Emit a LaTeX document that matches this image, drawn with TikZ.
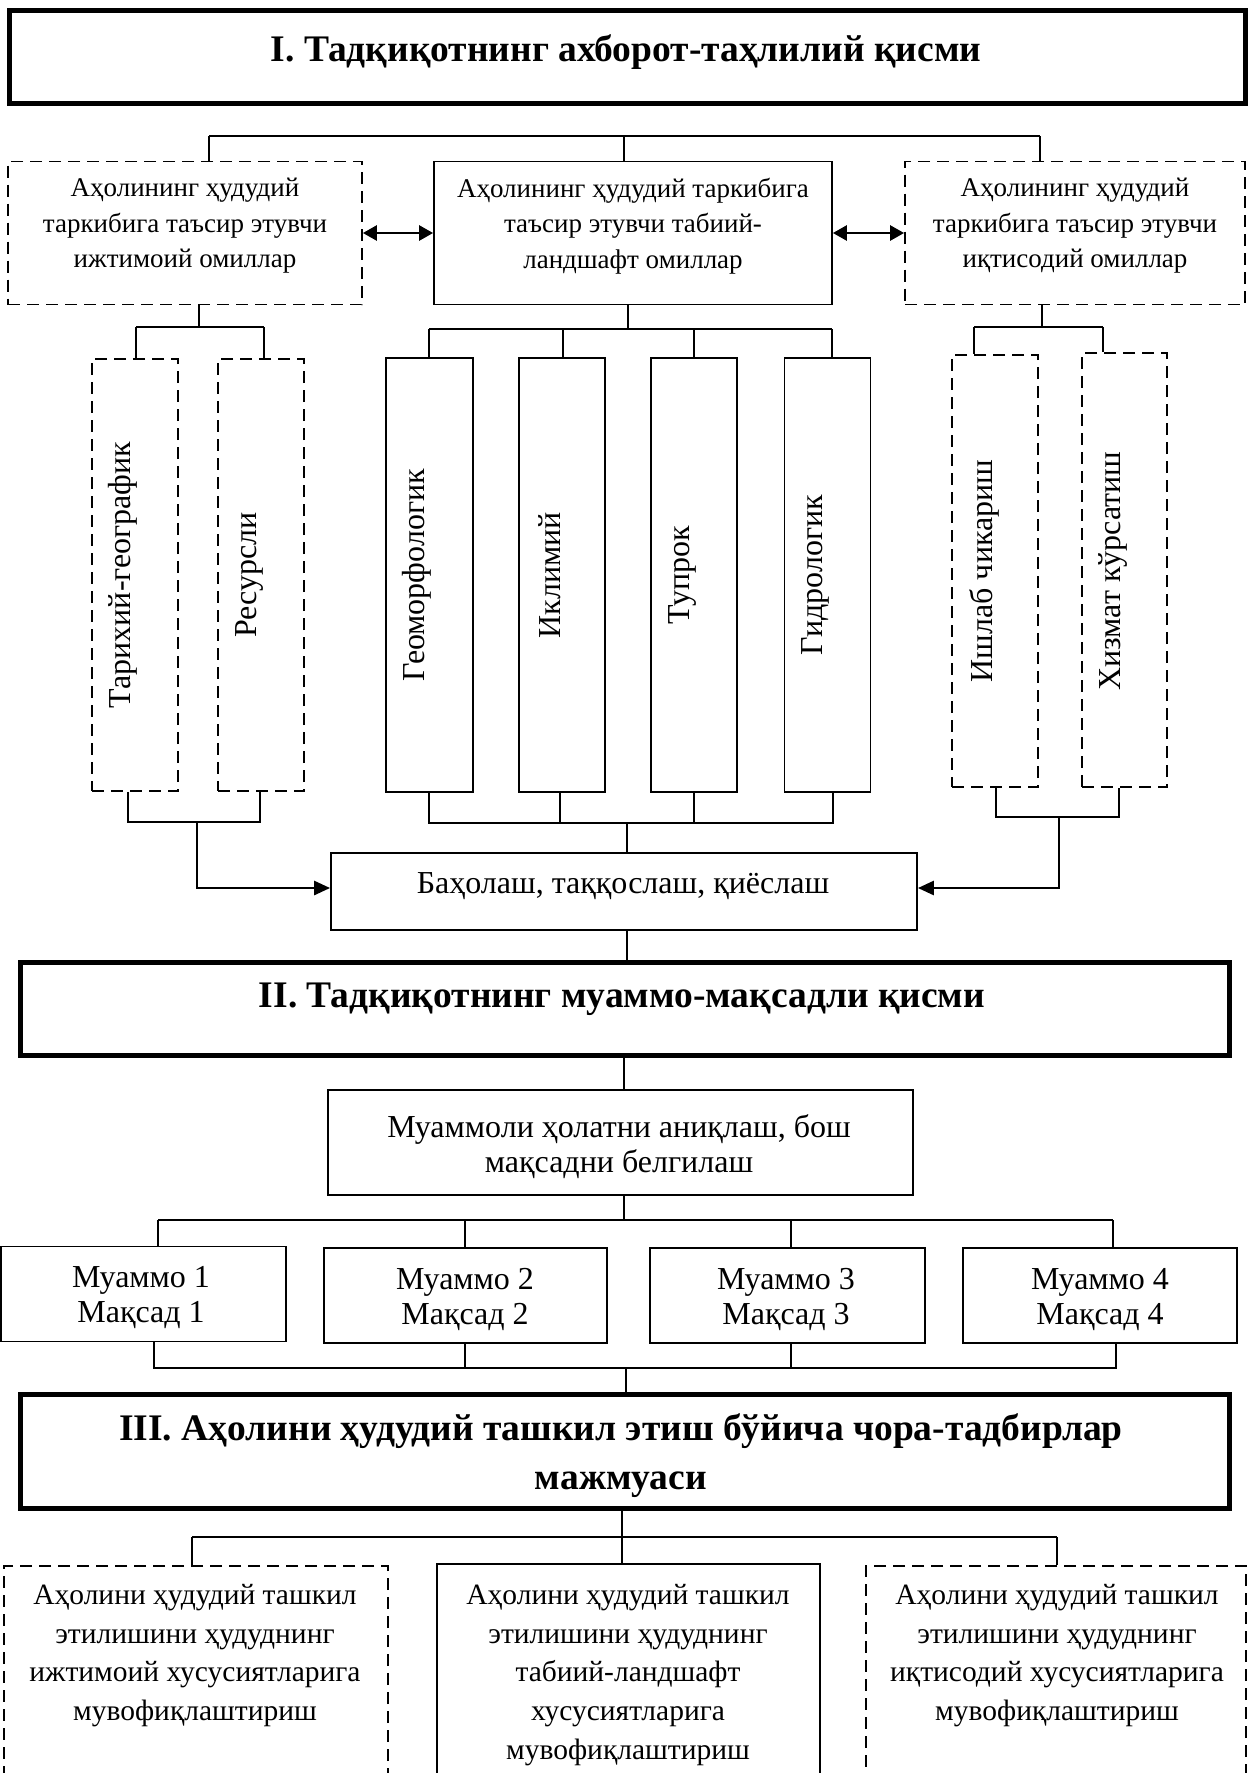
\documentclass[tikz,border=0pt]{standalone}
\usepackage{fontspec}
\setmainfont{Liberation Serif}
\usetikzlibrary{arrows.meta}
\begin{document}
\begin{tikzpicture}[x=1pt,y=-1pt,
  ln/.style={line width=1.8pt},
  bx/.style={draw, line width=1.8pt, inner sep=0pt},
  dbx/.style={bx, dash pattern=on 12pt off 7pt},
  ttl/.style={draw, line width=5pt, inner sep=0pt},
  txt/.style={font=\fontsize{32}{35}\selectfont, align=center, inner sep=0pt},
  stxt/.style={font=\fontsize{27}{35.5}\selectfont, align=center, inner sep=0pt},
  ltxt/.style={font=\fontsize{29.5}{38.7}\selectfont, align=center, inner sep=0pt, anchor=north},
  btxt/.style={font=\fontsize{37.5}{49}\selectfont\bfseries, align=center, inner sep=0pt},
  vtxt/.style={font=\fontsize{32}{35}\selectfont, rotate=90, inner sep=0pt},
  arr/.style={line width=2.7pt, -{Triangle[length=16pt,width=14pt]}},
  darr/.style={line width=2.7pt, {Triangle[length=14pt,width=15pt]}-{Triangle[length=14pt,width=15pt]}}
]
\useasboundingbox (0,0) rectangle (1253,1773);
\clip (0,0) rectangle (1253,1773);
\fill[white] (0,0) rectangle (1253,1773);

% ---------- Title I ----------
\node[ttl, minimum width=1236pt, minimum height=93pt] (t1) at (627.5,57) {};
\node[btxt] (t1t) at (626,52) {I. Тадқиқотнинг ахборот-таҳлилий қисми};

% ---------- top row ----------
\node[dbx, minimum width=354pt, minimum height=143pt] (sL) at (185,233) {};
\node[bx,  minimum width=398pt, minimum height=143pt] (sC) at (633,233) {};
\node[dbx, minimum width=340pt, minimum height=143pt] (sR) at (1075,233) {};
\node[stxt] (sLt) at (185,226) {Аҳолининг ҳудудий\\таркибига таъсир этувчи\\ижтимоий омиллар};
\node[stxt] (sCt) at (633,226) {Аҳолининг ҳудудий таркибига\\таъсир этувчи табиий-\\ландшафт омиллар};
\node[stxt] (sRt) at (1075,226) {Аҳолининг ҳудудий\\таркибига таъсир этувчи\\иқтисодий омиллар};

\coordinate (tbL) at (209,136);
\coordinate (tbC) at (624,136);
\coordinate (tbR) at (1040,136);
\draw[ln] (tbL) -- (tbR);
\draw[ln] (tbL) -- (tbL |- sL.north);
\draw[ln] (tbC) -- (tbC |- sC.north);
\draw[ln] (tbR) -- (tbR |- sR.north);

\draw[darr] (sL.east) -- (sC.west);
\draw[darr] (sC.east) -- (sR.west);

% ---------- vertical boxes ----------
\node[dbx, minimum width=86pt, minimum height=432pt] (vT) at (135,575) {};
\node[dbx, minimum width=86pt, minimum height=432pt] (vR) at (261,575) {};
\node[bx, minimum width=87pt, minimum height=434pt] (vG) at (429.5,575) {};
\node[bx, minimum width=86pt, minimum height=434pt] (vI) at (562,575) {};
\node[bx, minimum width=86pt, minimum height=434pt] (vTu) at (694,575) {};
\node[bx, minimum width=86pt, minimum height=434pt] (vH) at (827.5,575) {};
\node[dbx, minimum width=86pt, minimum height=432pt] (vIs) at (995,571) {};
\node[dbx, minimum width=85pt, minimum height=434pt] (vX) at (1124.5,570) {};

\node[vtxt] (vTt) at (123,575) {Тарихий-географик};
\node[vtxt] (vRt) at (249,575) {Ресурсли};
\node[vtxt] (vGt) at (417,575) {Геоморфологик};
\node[vtxt] (vIt) at (550,575) {Иклимий};
\node[vtxt] (vTut) at (682,575) {Тупрок};
\node[vtxt] (vHt) at (815,575) {Гидрологик};
\node[vtxt] (vIst) at (984,571) {Ишлаб чикариш};
\node[vtxt] (vXt) at (1113,571) {Хизмат кўрсатиш};

% left group (top)
\coordinate (aL) at (199,327);
\coordinate (aL1) at (136,327);
\coordinate (aL2) at (264,327);
\draw[ln] (aL |- sL.south) -- (aL);
\draw[ln] (aL1) -- (aL2);
\draw[ln] (aL1) -- (aL1 |- vT.north);
\draw[ln] (aL2) -- (aL2 |- vR.north);
% centre group (top)
\coordinate (aC) at (628,329);
\coordinate (aC1) at (429,329);
\coordinate (aC2) at (563,329);
\coordinate (aC3) at (694,329);
\coordinate (aC4) at (832,329);
\draw[ln] (aC |- sC.south) -- (aC);
\draw[ln] (aC1) -- (aC4);
\draw[ln] (aC1) -- (aC1 |- vG.north);
\draw[ln] (aC2) -- (aC2 |- vI.north);
\draw[ln] (aC3) -- (aC3 |- vTu.north);
\draw[ln] (aC4) -- (aC4 |- vH.north);
% right group (top)
\coordinate (aR) at (1042,327);
\coordinate (aR1) at (974,327);
\coordinate (aR2) at (1103,327);
\draw[ln] (aR |- sR.south) -- (aR);
\draw[ln] (aR1) -- (aR2);
\draw[ln] (aR1) -- (aR1 |- vIs.north);
\draw[ln] (aR2) -- (aR2 |- vX.north);

% ---------- evaluation box ----------
\node[bx, minimum width=586pt, minimum height=77pt] (baho) at (624,891.5) {};
\node[txt] (bahot) at (623,886) {Баҳолаш, таққослаш, қиёслаш};

% left group (bottom)
\coordinate (bL1) at (128,822);
\coordinate (bL2) at (260,822);
\coordinate (bL) at (197,822);
\coordinate (bLa) at (197,888);
\draw[ln] (bL1 |- vT.south) -- (bL1) -- (bL2) -- (bL2 |- vR.south);
\draw[arr] (bL) -- (bLa) -- (bLa -| baho.west);
% centre group (bottom)
\coordinate (bC1) at (429,823);
\coordinate (bC2) at (560,823);
\coordinate (bC3) at (694,823);
\coordinate (bC4) at (833,823);
\coordinate (bC) at (627,823);
\draw[ln] (bC1 |- vG.south) -- (bC1) -- (bC4) -- (bC4 |- vH.south);
\draw[ln] (bC2 |- vI.south) -- (bC2);
\draw[ln] (bC3 |- vTu.south) -- (bC3);
\draw[ln] (bC) -- (bC |- baho.north);
% right group (bottom)
\coordinate (bR1) at (996,817);
\coordinate (bR2) at (1119,817);
\coordinate (bR) at (1059,817);
\coordinate (bRa) at (1059,888);
\draw[ln] (bR1 |- vIs.south) -- (bR1) -- (bR2) -- (bR2 |- vX.south);
\draw[arr] (bR) -- (bRa) -- (bRa -| baho.east);

% ---------- Title II ----------
\node[ttl, minimum width=1209pt, minimum height=93pt] (t2) at (625,1009) {};
\node[btxt] (t2t) at (622,999) {II. Тадқиқотнинг муаммо-мақсадли қисми};
\coordinate (c2a) at (627,930);
\draw[ln] (c2a |- baho.south) -- (c2a |- t2.north);

\node[bx, minimum width=585pt, minimum height=105pt] (mq) at (620.5,1142.5) {};
\node[txt] (mqt) at (619,1147) {Муаммоли ҳолатни аниқлаш, бош\\мақсадни белгилаш};
\coordinate (c2b) at (624,1060);
\draw[ln] (c2b |- t2.south) -- (c2b |- mq.north);

% ---------- problems ----------
\node[bx, minimum width=285pt, minimum height=95pt] (m1) at (143.5,1294) {};
\node[bx, minimum width=283pt, minimum height=95pt] (m2) at (465.5,1295.5) {};
\node[bx, minimum width=275pt, minimum height=95pt] (m3) at (787.5,1295.5) {};
\node[bx, minimum width=274pt, minimum height=95pt] (m4) at (1100,1295.5) {};
\node[txt] (m1t) at (141,1297.5) {Муаммо 1\\Мақсад 1};
\node[txt] (m2t) at (465,1299.5) {Муаммо 2\\Мақсад 2};
\node[txt] (m3t) at (786,1299.5) {Муаммо 3\\Мақсад 3};
\node[txt] (m4t) at (1100,1299.5) {Муаммо 4\\Мақсад 4};

\coordinate (dT) at (624,1220);
\coordinate (dT1) at (158,1220);
\coordinate (dT2) at (465,1220);
\coordinate (dT3) at (791,1220);
\coordinate (dT4) at (1113,1220);
\draw[ln] (dT |- mq.south) -- (dT);
\draw[ln] (dT1) -- (dT4);
\draw[ln] (dT1) -- (dT1 |- m1.north);
\draw[ln] (dT2) -- (dT2 |- m2.north);
\draw[ln] (dT3) -- (dT3 |- m3.north);
\draw[ln] (dT4) -- (dT4 |- m4.north);

\coordinate (dB) at (626,1368);
\coordinate (dB1) at (154,1368);
\coordinate (dB2) at (465,1368);
\coordinate (dB3) at (791,1368);
\coordinate (dB4) at (1116,1368);
\draw[ln] (dB1 |- m1.south) -- (dB1) -- (dB4) -- (dB4 |- m4.south);
\draw[ln] (dB2 |- m2.south) -- (dB2);
\draw[ln] (dB3 |- m3.south) -- (dB3);

% ---------- Title III ----------
\node[ttl, minimum width=1209pt, minimum height=114pt] (t3) at (625,1451.5) {};
\node[btxt] (t3t) at (621,1456) {III. Аҳолини ҳудудий ташкил этиш бўйича чора-тадбирлар\\мажмуаси};
\draw[ln] (dB) -- (dB |- t3.north);

% ---------- measures ----------
\node[dbx, minimum width=384pt, minimum height=400pt] (bL) at (196,1766) {};
\node[bx,  minimum width=383pt, minimum height=400pt] (bC) at (628.5,1764) {};
\node[dbx, minimum width=380pt, minimum height=400pt] (bR) at (1056,1766) {};
\node[ltxt] (bLt) at (195,1584) {Аҳолини ҳудудий ташкил\\этилишини ҳудуднинг\\ижтимоий хусусиятларига\\мувофиқлаштириш};
\node[ltxt] (bCt) at (628,1584) {Аҳолини ҳудудий ташкил\\этилишини ҳудуднинг\\табиий-ландшафт\\хусусиятларига\\мувофиқлаштириш};
\node[ltxt] (bRt) at (1057,1584) {Аҳолини ҳудудий ташкил\\этилишини ҳудуднинг\\иқтисодий хусусиятларига\\мувофиқлаштириш};

\coordinate (eT) at (622,1537);
\coordinate (eT1) at (192,1537);
\coordinate (eT2) at (1057,1537);
\draw[ln] (eT |- t3.south) -- (eT |- bC.north);
\draw[ln] (eT1) -- (eT2);
\draw[ln] (eT1) -- (eT1 |- bL.north);
\draw[ln] (eT2) -- (eT2 |- bR.north);
\end{tikzpicture}
\end{document}
